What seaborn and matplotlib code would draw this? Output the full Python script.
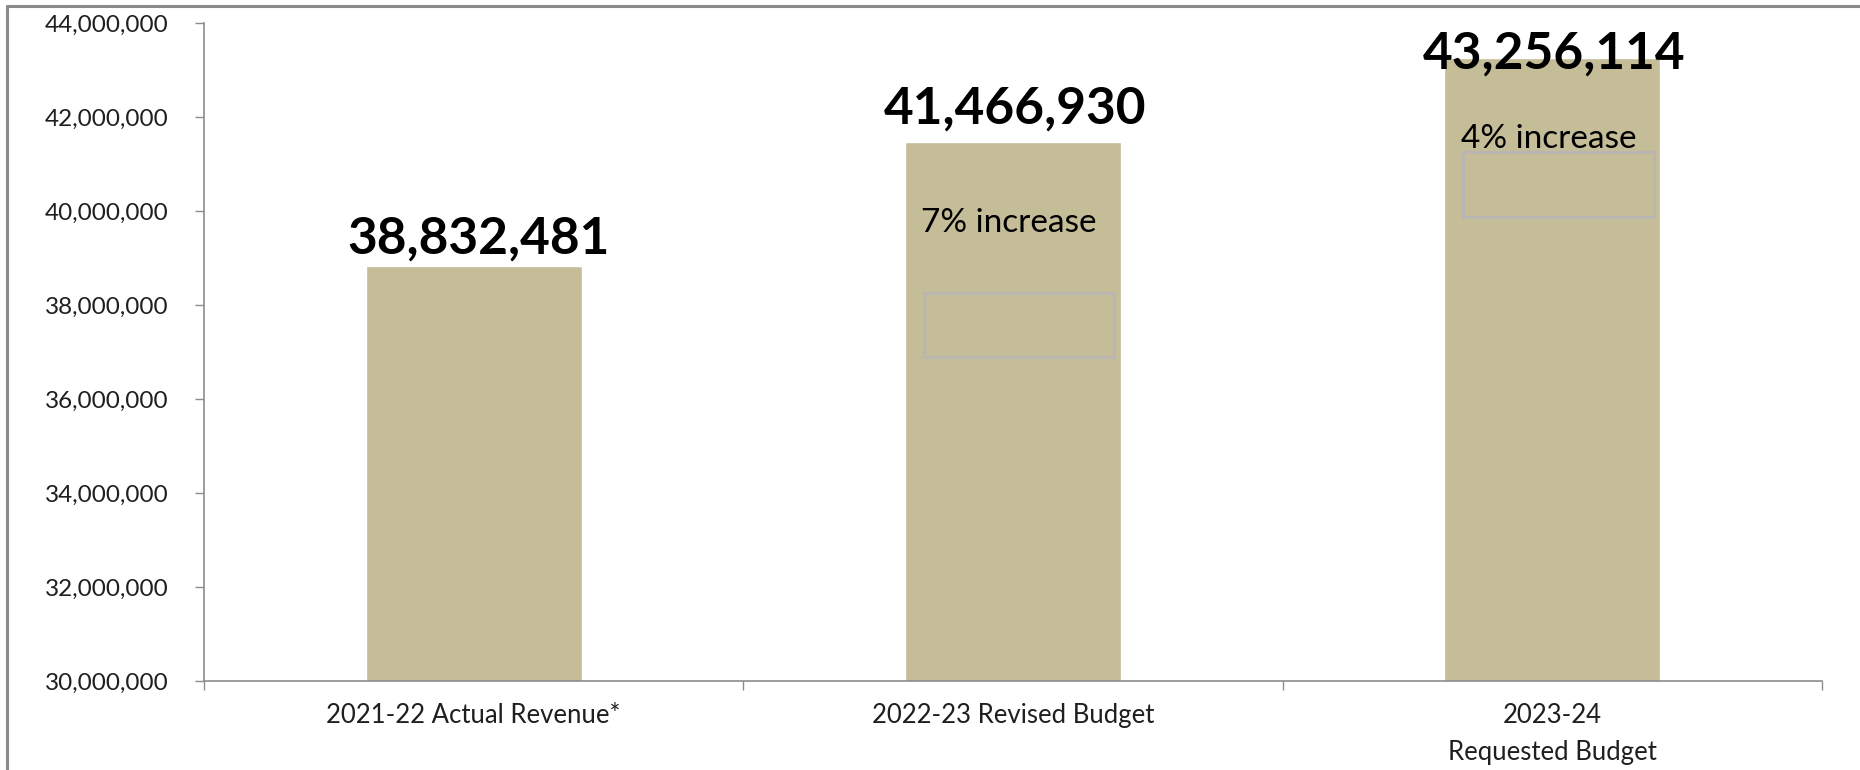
import matplotlib
matplotlib.use("Agg")
import matplotlib.pyplot as plt
import matplotlib.ticker as mticker
from matplotlib.lines import Line2D
from matplotlib.patches import Rectangle
import seaborn as sns
import pandas as pd

# Revenue by fiscal year
categories = ["2021-22 Actual Revenue*", "2022-23 Revised Budget", "2023-24\nRequested Budget"]
revenue = [38832481, 41466930, 43256114]
y_ticks = [30000000, 32000000, 34000000, 36000000, 38000000, 40000000, 42000000, 44000000]

BAR_COLOR = "#C4BD98"
AXIS_GRAY = "#8C8C8C"
TEXT_COLOR = "#1F1F1F"

sns.set_theme(style="white")
plt.rcParams["font.family"] = ["Lato", "DejaVu Sans"]

df = pd.DataFrame({"category": categories, "revenue": revenue})

fig = plt.figure(figsize=(18.6, 7.7), dpi=100)
ax = fig.add_axes([0.10968, 0.11558, 0.86989, 0.85416])

sns.barplot(data=df, x="category", y="revenue", color=BAR_COLOR, saturation=1,
            width=0.4, ax=ax)

ax.set_ylim(y_ticks[0], y_ticks[-1])
ax.set_xlim(-0.5, len(categories) - 0.5)
ax.set_xlabel("")
ax.set_ylabel("")

# Axes styling
for side in ("top", "right"):
    ax.spines[side].set_visible(False)
for side in ("left", "bottom"):
    ax.spines[side].set_color(AXIS_GRAY)
    ax.spines[side].set_linewidth(1.2)

ax.set_yticks(y_ticks)
ax.yaxis.set_major_formatter(mticker.FuncFormatter(lambda v, _: f"{int(v):,}"))
ax.tick_params(axis="y", which="major", length=6.5, width=1.0, color=AXIS_GRAY,
               direction="out", pad=19, labelsize=17.5, labelcolor=TEXT_COLOR, left=True)

# Category labels centred under bars, divider ticks between categories
ax.set_xticks(range(len(categories)))
ax.set_xticklabels(categories, fontsize=18.5, color=TEXT_COLOR, linespacing=1.6)
ax.set_xticks([i - 0.5 for i in range(len(categories) + 1)], minor=True)
ax.tick_params(axis="x", which="major", length=0, pad=16)
ax.tick_params(axis="x", which="minor", length=6.5, width=1.0, color=AXIS_GRAY,
               direction="out", bottom=True)

# Value labels above the bars
value_offsets_px = [(5, 13), (2, 19), (2, -10)]
for patch, val, (dx, dy) in zip(ax.patches, revenue, value_offsets_px):
    cx = patch.get_x() + patch.get_width() / 2
    ax.annotate(f"{val:,}", xy=(cx, val), xytext=(dx, dy),
                textcoords="offset pixels", ha="center", va="baseline",
                fontsize=37, fontweight="bold", color="black", zorder=5)

# Year-over-year change written inside the bars
for i in range(1, len(revenue)):
    pct = (revenue[i] / revenue[i - 1] - 1) * 100
    patch = ax.patches[i]
    cx = patch.get_x() + patch.get_width() / 2
    ax.annotate(f"{round(pct)}% increase", xy=(cx, revenue[i]), xytext=(-4, -90),
                textcoords="offset pixels", ha="center", va="baseline",
                fontsize=24, color="black", zorder=5)

# Empty outlined text frames sitting on the bars
frame_spans = {1: (36.9e6, 38.25e6), 2: (39.88e6, 41.25e6)}
for i, (y0, y1) in frame_spans.items():
    patch = ax.patches[i]
    x0 = patch.get_x() + 0.035
    x1 = patch.get_x() + patch.get_width() - 0.012
    ax.add_patch(Rectangle((x0, y0), x1 - x0, y1 - y0, fill=False,
                           edgecolor="#B8B5B3", linewidth=2.0, zorder=4))

# Outer frame lines along the top and left edges
fig.add_artist(Line2D([0.0038, 1.0], [0.992, 0.992], transform=fig.transFigure,
                      color="#8A8A8A", linewidth=2.2))
fig.add_artist(Line2D([0.0038, 0.0038], [0.0, 0.992], transform=fig.transFigure,
                      color="#8A8A8A", linewidth=2.2))

fig.savefig("out.png", dpi=100, facecolor="white")
